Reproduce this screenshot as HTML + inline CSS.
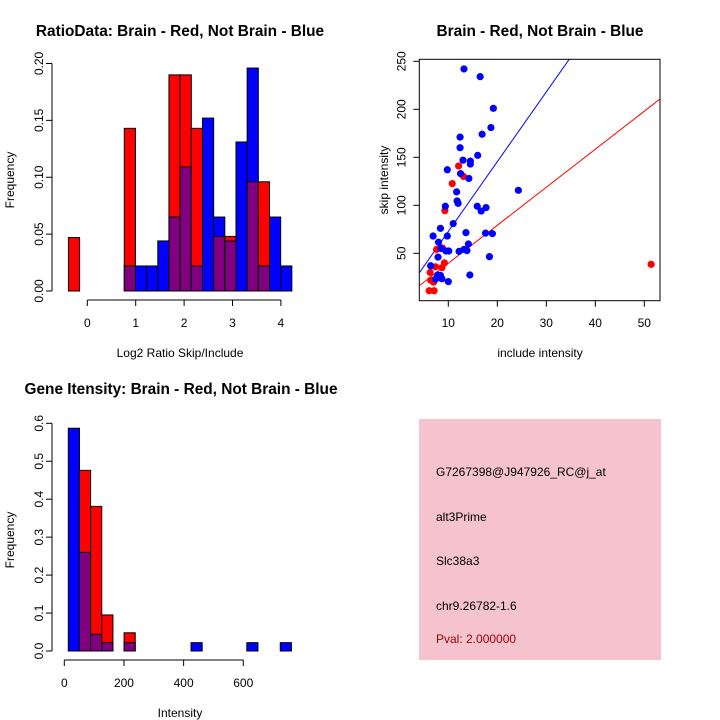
<!DOCTYPE html>
<html><head><meta charset="utf-8"><style>
html,body{margin:0;padding:0;background:#fff;}
svg{display:block;font-family:"Liberation Sans",sans-serif;}
</style></head><body>
<svg id="c" width="720" height="720" viewBox="0 0 720 720" xmlns="http://www.w3.org/2000/svg">
<rect width="720" height="720" fill="#fff"/>
<g id="p1"></g>
<g id="p2"></g>
<g id="p3"></g>
<g id="p4">
<rect x="419" y="419" width="242" height="241" fill="#f4c3cd"/>
<text x="436" y="476" font-size="12" fill="#000">G7267398@J947926_RC@j_at</text>
<text x="436" y="521" font-size="12" fill="#000">alt3Prime</text>
<text x="436" y="565" font-size="12" fill="#000">Slc38a3</text>
<text x="436" y="610" font-size="12" fill="#000">chr9.26782-1.6</text>
<text x="436" y="643" font-size="12" fill="#a00000">Pval: 2.000000</text>
</g>
</svg>
<script>
// ---- Panel 1 data: ratio histogram (20 bins) ----
const ratioBinStart = -0.39;
const ratioBinWidth = 0.2308;
const ratioRed  = [0.047,0,0,0,0,0.143,0,0,0,0.19,0.19,0.143,0,0.048,0.048,0,0.096,0.096,0,0];
const ratioBlue = [0,0,0,0,0,0.022,0.022,0.022,0.044,0.065,0.109,0.022,0.152,0.065,0.044,0.131,0.196,0.022,0.065,0.022];
const ratioYTicks = ["0.00","0.05","0.10","0.15","0.20"];
const ratioXTicks = ["0","1","2","3","4"];
// ---- Panel 2 data: scatter ----
const blueX = [13.2,16.5,19.2,18.7,16.9,12.4,12.4,16.0,13.0,14.5,14.5,9.8,12.5,14.2,11.7,11.8,12.0,9.4,24.3,15.9,16.7,17.7,11.0,8.4,6.9,9.8,13.6,17.6,19.0,8.0,8.5,9.5,10.1,12.2,13.2,13.8,14.1,18.4,7.9,6.4,7.8,8.4,7.4,8.7,10.0,14.4];
const blueY = [242,234,201,181,174,171,160,152,147,146,143,137,133,128,114,104.5,102,99,115.6,99,94,97.6,81,76,68,68,71.5,71,70.5,61.5,55,52.4,52.4,52,54,52.8,59.7,46.5,46,37,27.4,27,23,23.4,20.5,27.4];
const redX = [12.1,13.1,10.8,9.3,7.6,8.8,7.4,9.2,8.7,6.3,6.4,7.0,6.1,7.1,51.4];
const redY = [141,130,122.6,94.4,54,55.6,35.9,40,35,30,22,20,11,11,38.5];
const blueSlope = 7.27;
const redSlope = 3.96;
const scatterXTicks = [10,20,30,40,50];
const scatterYTicks = [50,100,150,200,250];
// ---- Panel 3 data: intensity histogram (20 bins) ----
const intBinStart = 13.4;
const intBinWidth = 37.4;
const intRed  = [0,0.476,0.381,0.095,0,0.048,0,0,0,0,0,0,0,0,0,0,0,0,0,0];
const intBlue = [0.587,0.26,0.044,0.022,0,0.022,0,0,0,0,0,0.022,0,0,0,0,0.022,0,0,0.022];
const intYTicks = ["0.0","0.1","0.2","0.3","0.4","0.5","0.6"];
const intXTicks = [0,200,400,600];

const NS="http://www.w3.org/2000/svg";
function mk(parent,tag,attrs,txt){const e=document.createElementNS(NS,tag);for(const k in attrs)e.setAttribute(k,attrs[k]);if(txt!==undefined)e.textContent=txt;parent.appendChild(e);return e;}

function histPanel(g,cfg){
  const sx=v=>cfg.x0px+(v-cfg.xv0)*cfg.xs;
  const sy=v=>cfg.y0px-v*cfg.ys;
  for(let i=0;i<cfg.red.length;i++){
    const a=cfg.binStart+i*cfg.binWidth,b=a+cfg.binWidth;
    const r=cfg.red[i],bl=cfg.blue[i];
    const hi=Math.max(r,bl),lo=Math.min(r,bl);
    if(hi<=0)continue;
    const col=r>=bl?"#ff0000":"#0000ff";
    const e=mk(g,"rect",{x:sx(a),y:sy(hi),width:sx(b)-sx(a),height:sy(0)-sy(hi),fill:col,stroke:"#000","stroke-width":1});
    
    
    if(lo>0){
      const o=mk(g,"rect",{x:sx(a),y:sy(lo),width:sx(b)-sx(a),height:sy(0)-sy(lo),fill:"#800080",stroke:"#000","stroke-width":1});
      
      
    }
  }
  const yt=cfg.yTicks;const ystep=cfg.yStep;
  const ya=mk(g,"line",{x1:cfg.yAxisX,x2:cfg.yAxisX,y1:sy(0),y2:sy((yt.length-1)*ystep),stroke:"#000"});
  
  
  yt.forEach((t,i)=>{const y=sy(i*ystep);
    mk(g,"line",{x1:cfg.yAxisX-6,x2:cfg.yAxisX,y1:y,y2:y,stroke:"#000"});
    const tx=mk(g,"text",{x:0,y:0,"font-size":12,"text-anchor":"middle",transform:`translate(${cfg.yAxisX-9},${y}) rotate(-90)`},t);
    
    
  });
  const xt=cfg.xTicks;
  const xa=mk(g,"line",{x1:sx(+xt[0]),x2:sx(+xt[xt.length-1]),y1:cfg.xAxisY,y2:cfg.xAxisY,stroke:"#000"});
  
  
  xt.forEach(t=>{const x=sx(+t);
    mk(g,"line",{x1:x,x2:x,y1:cfg.xAxisY,y2:cfg.xAxisY+6,stroke:"#000"});
    const tx=mk(g,"text",{x:x,y:cfg.xAxisY+27,"font-size":12,"text-anchor":"middle"},String(t));
    
    
  });
}

histPanel(document.getElementById('p1'),{x0px:87.3,xv0:0,xs:48.4,y0px:291,ys:1137.5,binStart:ratioBinStart,binWidth:ratioBinWidth,red:ratioRed,blue:ratioBlue,yTicks:ratioYTicks,yStep:0.05,xTicks:ratioXTicks,yAxisX:52,xAxisY:300});
histPanel(document.getElementById('p3'),{x0px:64.3,xv0:0,xs:0.2983,y0px:651,ys:379.5,binStart:intBinStart,binWidth:intBinWidth,red:intRed,blue:intBlue,yTicks:intYTicks,yStep:0.1,xTicks:intXTicks,yAxisX:52,xAxisY:660});

(function(){
  const g=document.getElementById('p2');
  const L=419.3,R=660,T=59.3,B=300.7;
  const sx=v=>399.3+v*4.9, sy=v=>301.3-v*0.96;
  const cp=mk(g,"clipPath",{id:"clipS"});mk(cp,"rect",{x:L,y:T,width:R-L,height:B-T});
  const lg=mk(g,"g",{"clip-path":"url(#clipS)"});
  const x1=(L-399.3)/4.9,x2=(R-399.3)/4.9;
  const bl=mk(lg,"line",{x1:sx(x1),y1:sy(blueSlope*x1),x2:sx(x2),y2:sy(blueSlope*x2),stroke:"#0000ff","stroke-width":1});
  
  
  const rl=mk(lg,"line",{x1:sx(x1),y1:sy(redSlope*x1),x2:sx(x2),y2:sy(redSlope*x2),stroke:"#ff0000","stroke-width":1});
  
  
  redX.forEach((x,i)=>{const c=mk(g,"circle",{cx:sx(x),cy:sy(redY[i]),r:3.6,fill:"#ff0000"});
    
    });
  blueX.forEach((x,i)=>{const c=mk(g,"circle",{cx:sx(x),cy:sy(blueY[i]),r:3.6,fill:"#0000ff"});
    
    });
  const box=mk(g,"rect",{x:L,y:T,width:R-L,height:B-T,fill:"none",stroke:"#000"});
  
  
  scatterXTicks.forEach(t=>{const x=sx(t);mk(g,"line",{x1:x,x2:x,y1:B,y2:B+6,stroke:"#000"});
    const tx=mk(g,"text",{x:x,y:327,"font-size":12,"text-anchor":"middle"},String(t));
    
    });
  scatterYTicks.forEach(t=>{const y=sy(t);mk(g,"line",{x1:L-6,x2:L,y1:y,y2:y,stroke:"#000"});
    const tx=mk(g,"text",{x:0,y:0,"font-size":12,"text-anchor":"middle",transform:`translate(${L-14},${y}) rotate(-90)`},String(t));
    
    });
})();

const svg=document.getElementById('c');
const labels=[
 ["title-ratio",180,36,"RatioData: Brain - Red, Not Brain - Blue",15.4,"bold",0],
 ["x-axis-title-ratio",180,357,"Log2 Ratio Skip/Include",12,"normal",0],
 ["y-axis-title-ratio",14,180,"Frequency",12,"normal",-90],
 ["title-scatter",540,36,"Brain - Red, Not Brain - Blue",15.4,"bold",0],
 ["x-axis-title-scatter",540,357,"include intensity",12,"normal",0],
 ["y-axis-title-scatter",388,180,"skip intensity",12,"normal",-90],
 ["title-intensity",181,394,"Gene Itensity: Brain - Red, Not Brain - Blue",15.4,"bold",0],
 ["x-axis-title-intensity",180,717,"Intensity",12,"normal",0],
 ["y-axis-title-intensity",14,540,"Frequency",12,"normal",-90]
];
labels.forEach(l=>{
  const t=mk(svg,"text",{x:0,y:0,"font-size":l[4],"font-weight":l[5],"text-anchor":"middle",transform:`translate(${l[1]},${l[2]}) rotate(${l[6]})`},l[3]);
  
  
});
</script>
</body></html>
